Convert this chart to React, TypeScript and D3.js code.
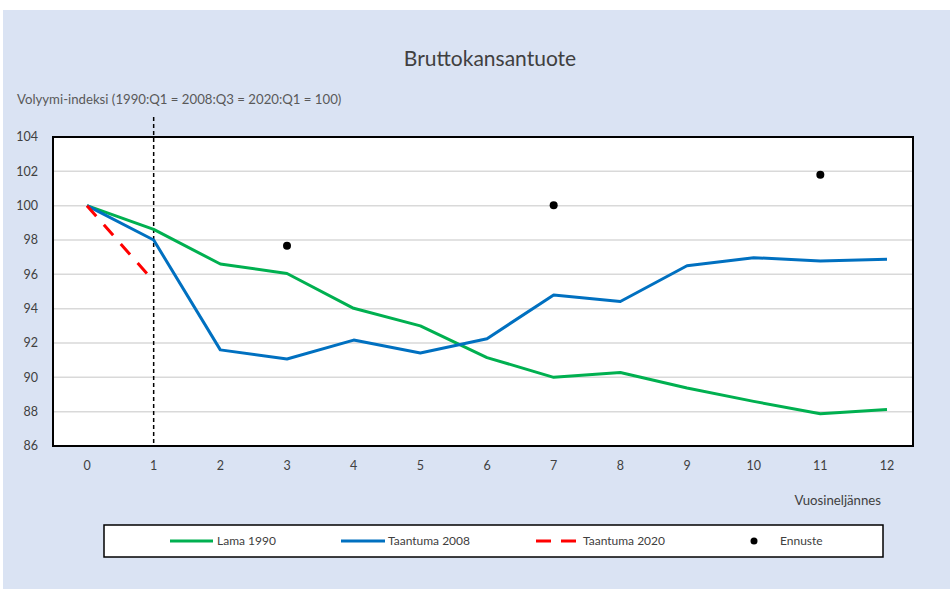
import React from 'react';
import * as d3 from 'd3';

// Quarters since the start of each recession
const quarters = [0, 1, 2, 3, 4, 5, 6, 7, 8, 9, 10, 11, 12];
const yTicks = [86, 88, 90, 92, 94, 96, 98, 100, 102, 104];

const lama1990 = [100, 98.62, 96.6, 96.05, 94.02, 93.0, 91.15, 90.0, 90.28, 89.38, 88.6, 87.88, 88.12];
const taantuma2008 = [100, 98.0, 91.6, 91.07, 92.17, 91.42, 92.25, 94.8, 94.42, 96.5, 96.97, 96.78, 96.88];
const taantuma2020 = [100, 95.6];
const ennusteQ = [3, 7, 11];
const ennuste = [97.67, 100.02, 101.8];

const title = 'Bruttokansantuote';
const yLabel = 'Volyymi-indeksi (1990:Q1 = 2008:Q3 = 2020:Q1 = 100)';
const xLabel = 'Vuosineljännes';

const W = 950;
const H = 589;
const font = 'Lato, "Open Sans", sans-serif';
const green = '#00b050';
const blue = '#0070c0';
const red = '#ff0000';

const App = () => {
  const plot = { left: 53, right: 913, top: 137, bottom: 446 };

  const x = d3.scalePoint<number>()
    .domain(quarters)
    .range([87, 887]);

  const y = d3.scaleLinear()
    .domain([86, 104])
    .range([plot.bottom, plot.top]);

  const line = d3.line<number>()
    .x((_, i) => x(quarters[i]) as number)
    .y(d => y(d));

  return (
    <svg width={W} height={H} style={{ position: 'absolute', left: 0, top: 0 }} fontFamily={font}>
      <rect x={0} y={0} width={W} height={H} fill="#fff" />
      <rect x={3} y={10} width={W - 3} height={H - 10} fill="#dae3f3" />

      <text x={490} y={66} textAnchor="middle" fontSize={21} fill="#404040">{title}</text>
      <text x={17} y={104} fontSize={13.2} fill="#595959">{yLabel}</text>

      <rect x={plot.left} y={plot.top} width={plot.right - plot.left} height={plot.bottom - plot.top} fill="#fff" />

      {yTicks.map(t => (
        <g key={t}>
          {t > 86 && t < 104 && (
            <line x1={plot.left} x2={plot.right} y1={y(t)} y2={y(t)} stroke="#d9d9d9" strokeWidth={1.5} />
          )}
          <text x={38} y={y(t)} dy="0.35em" textAnchor="end" fontSize={12.5} fill="#404040">{t}</text>
        </g>
      ))}

      {quarters.map(q => (
        <text key={q} x={x(q)} y={470} textAnchor="middle" fontSize={12.5} fill="#404040">{q}</text>
      ))}
      <text x={881} y={505} textAnchor="end" fontSize={13.2} fill="#404040">{xLabel}</text>

      <rect x={plot.left} y={plot.top} width={plot.right - plot.left} height={plot.bottom - plot.top}
        fill="none" stroke="#000" strokeWidth={2} />

      <line x1={x(1)} x2={x(1)} y1={117} y2={plot.bottom} stroke="#000" strokeWidth={1.5} strokeDasharray="4,3" />

      <path d={line(lama1990) ?? ''} fill="none" stroke={green} strokeWidth={3} strokeLinejoin="round" />
      <path d={line(taantuma2008) ?? ''} fill="none" stroke={blue} strokeWidth={3} strokeLinejoin="round" />
      <path d={line(taantuma2020) ?? ''} fill="none" stroke={red} strokeWidth={3} strokeDasharray="14,11.5" />

      {ennuste.map((v, i) => (
        <circle key={i} cx={x(ennusteQ[i])} cy={y(v)} r={4} fill="#000" />
      ))}

      {/* legend */}
      <rect x={104} y={525} width={779} height={32} fill="#fff" stroke="#000" strokeWidth={1.5} />
      <line x1={170} x2={213} y1={541} y2={541} stroke={green} strokeWidth={3} />
      <text x={217} y={541} dy="0.35em" fontSize={12} fill="#404040">Lama 1990</text>
      <line x1={341} x2={385} y1={541} y2={541} stroke={blue} strokeWidth={3} />
      <text x={388} y={541} dy="0.35em" fontSize={12} fill="#404040">Taantuma 2008</text>
      <line x1={536} x2={578} y1={541} y2={541} stroke={red} strokeWidth={3} strokeDasharray="15,10" />
      <text x={583} y={541} dy="0.35em" fontSize={12} fill="#404040">Taantuma 2020</text>
      <circle cx={754} cy={541} r={3.5} fill="#000" />
      <text x={780} y={541} dy="0.35em" fontSize={12} fill="#404040">Ennuste</text>
    </svg>
  );
};

export default App;
